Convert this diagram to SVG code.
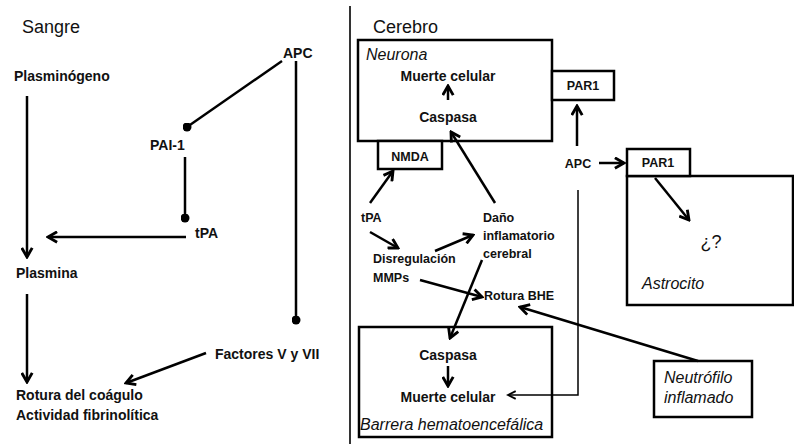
<svg xmlns="http://www.w3.org/2000/svg" width="794" height="444" viewBox="0 0 794 444">
<defs>
<marker id="arr" viewBox="0 0 10 10" refX="8.5" refY="5" markerWidth="13" markerHeight="13" markerUnits="userSpaceOnUse" orient="auto">
<path d="M1.5,1 L8.5,5 L1.5,9" fill="none" stroke="#000" stroke-width="2.2" stroke-linejoin="miter"/>
</marker>
<marker id="arrThin" viewBox="0 0 10 10" refX="8.5" refY="5" markerWidth="11" markerHeight="11" markerUnits="userSpaceOnUse" orient="auto">
<path d="M1.5,1.5 L8.5,5 L1.5,8.5" fill="none" stroke="#000" stroke-width="1.6"/>
</marker>
<marker id="dot" viewBox="0 0 10 10" refX="5" refY="5" markerWidth="9" markerHeight="9" markerUnits="userSpaceOnUse">
<circle cx="5" cy="5" r="5" fill="#000"/>
</marker>
</defs>
<style>
text{font-family:"Liberation Sans",Arial,sans-serif;fill:#111;}
.t{font-size:18px;}
.b{font-size:14px;font-weight:bold;}
.n{font-size:12px;}
.nb{font-size:12.5px;font-weight:bold;}
.i{font-size:16px;font-style:italic;}
.box{fill:#fff;stroke:#000;stroke-width:2.5;}
.c{fill:none;stroke:#000;stroke-width:2.5;}
.ct{fill:none;stroke:#000;stroke-width:1.5;}
</style>
<rect width="794" height="444" fill="#fff"/>
<line x1="350" y1="6" x2="350" y2="444" stroke="#333" stroke-width="2"/>

<g id="sangre-title"><text class="t" x="22" y="33">Sangre</text></g>
<g id="apc-l"><text class="b" x="283" y="58">APC</text></g>
<g id="plasminogeno"><text class="b" x="14" y="81">Plasminógeno</text></g>
<g id="pai1"><text class="b" x="150" y="150">PAI-1</text></g>
<g id="tpa-l"><text class="b" x="195" y="238">tPA</text></g>
<g id="plasmina"><text class="b" x="16" y="278">Plasmina</text></g>
<g id="factores"><text class="b" x="215" y="359">Factores V y VII</text></g>
<g id="rotura-coagulo"><text class="b" x="16" y="400">Rotura del coágulo</text><text class="b" x="16" y="420">Actividad fibrinolítica</text></g>

<g id="cerebro-title"><text class="t" x="373" y="33" font-size="20">Cerebro</text></g>

<g id="neurona">
<rect class="box" x="358" y="40" width="194" height="101"/>
<text class="i" x="366" y="60">Neurona</text>
<text class="b" x="448" y="81" text-anchor="middle">Muerte celular</text>
<text class="b" x="448" y="122" text-anchor="middle">Caspasa</text>
</g>
<g id="nmda">
<rect class="box" x="378" y="141" width="64" height="28"/>
<text class="nb" x="410" y="161" text-anchor="middle">NMDA</text>
</g>
<g id="par1-n">
<rect class="box" x="552" y="71" width="62" height="29"/>
<text class="nb" x="583" y="90" text-anchor="middle">PAR1</text>
</g>
<g id="apc-r"><text class="nb" x="578" y="168" text-anchor="middle">APC</text></g>
<g id="astrocito">
<rect class="box" x="627" y="176" width="166" height="129"/>
<rect class="box" x="627" y="149" width="63" height="27"/>
<text class="nb" x="658" y="167" text-anchor="middle">PAR1</text>
<text x="711" y="248" font-size="18" text-anchor="middle">¿?</text>
<text class="i" x="642" y="289">Astrocito</text>
</g>
<g id="tpa-r"><text class="nb" x="361" y="222">tPA</text></g>
<g id="dano">
<text class="nb" x="483" y="222">Daño</text>
<text class="nb" x="483" y="240">inflamatorio</text>
<text class="nb" x="483" y="258">cerebral</text>
</g>
<g id="disregulacion">
<text class="nb" x="373" y="263">Disregulación</text>
<text class="nb" x="373" y="282">MMPs</text>
</g>
<g id="rotura-bhe"><text class="nb" x="484" y="300">Rotura BHE</text></g>
<g id="barrera">
<rect class="box" x="359" y="327" width="193" height="110"/>
<text class="b" x="448" y="360" text-anchor="middle">Caspasa</text>
<text class="b" x="448" y="402" text-anchor="middle">Muerte celular</text>
<text class="i" x="360" y="430">Barrera hematoencefálica</text>
</g>
<g id="neutrofilo">
<rect class="box" x="654" y="361" width="98" height="56"/>
<text class="i" x="664" y="383">Neutrófilo</text>
<text class="i" x="664" y="403">inflamado</text>
</g>

<g id="connectors">
<line class="c" x1="27" y1="96" x2="27" y2="257" marker-end="url(#arr)"/>
<line class="c" x1="282" y1="61" x2="187" y2="127" marker-end="url(#dot)"/>
<line class="c" x1="185" y1="157" x2="185" y2="218" marker-end="url(#dot)"/>
<line class="c" x1="186" y1="237" x2="48" y2="237" marker-end="url(#arr)"/>
<line class="c" x1="27" y1="294" x2="27" y2="382" marker-end="url(#arr)"/>
<line class="c" x1="296" y1="61" x2="296" y2="320" marker-end="url(#dot)"/>
<line class="c" x1="206" y1="353" x2="126" y2="383" marker-end="url(#arr)"/>

<line class="c" x1="448" y1="100" x2="448" y2="86" marker-end="url(#arr)"/>
<line class="c" x1="370" y1="203" x2="393" y2="171" marker-end="url(#arr)"/>
<line class="c" x1="495" y1="203" x2="451" y2="132" marker-end="url(#arr)"/>
<line class="c" x1="577" y1="146" x2="577" y2="106" marker-end="url(#arr)"/>
<line class="c" x1="599" y1="163" x2="624" y2="163" marker-end="url(#arr)"/>
<line class="c" x1="655" y1="178" x2="689" y2="220" marker-end="url(#arr)"/>
<line class="c" x1="370" y1="232" x2="398" y2="248" marker-end="url(#arr)"/>
<line class="c" x1="435" y1="251" x2="473" y2="235" marker-end="url(#arr)"/>
<line class="c" x1="420" y1="280" x2="482" y2="297" marker-end="url(#arr)"/>
<line class="c" x1="482" y1="260" x2="450" y2="338" marker-end="url(#arr)"/>
<line class="c" x1="448" y1="366" x2="448" y2="386" marker-end="url(#arr)"/>
<polyline class="ct" points="578,190 578,395 508,395" marker-end="url(#arrThin)"/>
<line class="c" x1="698" y1="361" x2="520" y2="307" marker-end="url(#arr)"/>
</g>
</svg>
